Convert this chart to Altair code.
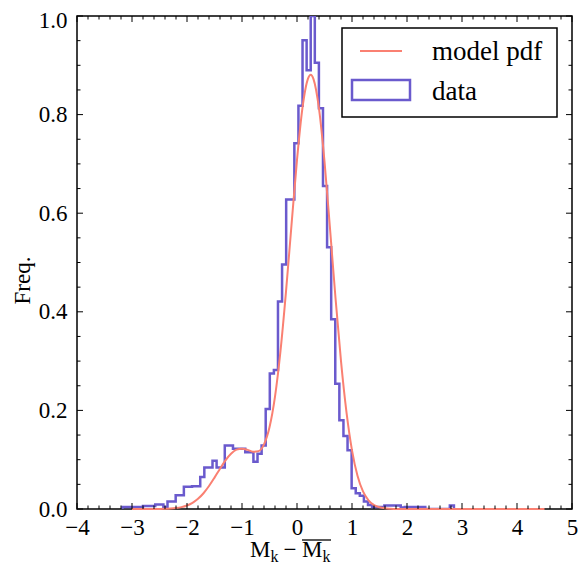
import altair as alt
import pandas as pd

# ---------------- data ----------------
# Histogram ("data"): 81 equal-width bins, first edge and width in data units
bin_first_edge = -3.173
bin_width = 0.0744
freq = [
    0.004, 0.004, 0.004, 0.004, 0.004,
    0.006, 0.006, 0.006, 0.009, 0.009,
    0.004, 0.015, 0.015, 0.028, 0.028,
    0.045, 0.045, 0.046, 0.046, 0.065,
    0.084, 0.084, 0.098, 0.084, 0.084,
    0.129, 0.129, 0.122, 0.122, 0.122,
    0.115, 0.115, 0.096, 0.112, 0.129,
    0.203, 0.275, 0.282, 0.421, 0.496,
    0.628, 0.628, 0.742, 0.818, 0.951,
    0.890, 1.000, 0.905, 0.813, 0.655,
    0.531, 0.385, 0.254, 0.180, 0.148,
    0.119, 0.042, 0.032, 0.027, 0.015,
    0.008, 0.004, 0.004, 0.004, 0.007,
    0.007, 0.007, 0.007, 0.003, 0.004,
    0.004, 0.004, 0.004, 0.004, 0.0,
    0.0, 0.0, 0.0, 0.0, 0.0,
    0.007,
]

# Model pdf curve
pdf_x = [-3.0, -2.8, -2.6, -2.5, -2.4, -2.3, -2.2, -2.1, -2.0, -1.9, -1.8, -1.7,
         -1.6, -1.5, -1.4, -1.3, -1.2, -1.1, -1.0, -0.9, -0.8, -0.7, -0.6, -0.5,
         -0.4, -0.3, -0.2, -0.1, 0.0, 0.1, 0.2, 0.25, 0.3, 0.4, 0.5, 0.6, 0.7,
         0.8, 0.9, 1.0, 1.1, 1.2, 1.3, 1.4, 1.5, 1.6, 1.7, 1.8, 2.0, 3.0, 4.5]
pdf_y = [0.0, 0.0, 0.0001, 0.0002, 0.0004, 0.0009, 0.0019, 0.0038, 0.0072, 0.0126,
         0.0207, 0.032, 0.0466, 0.0637, 0.0818, 0.0987, 0.1119, 0.1204, 0.1224,
         0.1199, 0.1162, 0.1174, 0.1311, 0.1657, 0.2279, 0.3207, 0.441, 0.576,
         0.708, 0.814, 0.873, 0.881, 0.872, 0.812, 0.705, 0.569, 0.428, 0.300,
         0.196, 0.119, 0.0674, 0.0356, 0.0175, 0.008, 0.0034, 0.0013, 0.0005,
         0.0001, 0.0, 0.0, 0.0]

# Axis ticks
x_major = [-4, -3, -2, -1, 0, 1, 2, 3, 4, 5]
x_minor = [round(-4 + 0.2 * i, 2) for i in range(46) if i % 5 != 0]
y_major = [0.0, 0.2, 0.4, 0.6, 0.8, 1.0]
y_minor = [round(0.05 * i, 2) for i in range(21) if i % 4 != 0]

legend_labels = ["model pdf", "data"]
y_title = "Freq."

# ---------------- styling ----------------
W, H = 495, 493
FONT = "Liberation Serif"
BLUE = "#6a5acd"
RED = "#fa8072"
MAJ, MIN = 6, 3.5

# step outline vertices of the histogram
rows = [{"x": bin_first_edge, "y": 0.0, "o": 0}]
n = 1
for i, f in enumerate(freq):
    lo = bin_first_edge + i * bin_width
    rows.append({"x": lo, "y": f, "o": n}); n += 1
    rows.append({"x": lo + bin_width, "y": f, "o": n}); n += 1
rows.append({"x": bin_first_edge + len(freq) * bin_width, "y": 0.0, "o": n})
hist_df = pd.DataFrame(rows)
pdf_df = pd.DataFrame({"x": pdf_x, "y": pdf_y})
one = pd.DataFrame({"k": [0]})

xs = alt.Scale(domain=[-4, 5], nice=False, zero=False)
ys = alt.Scale(domain=[0, 1], nice=False, zero=False)

AX = alt.Axis(values=x_major, format="d", ticks=False, domain=False, grid=False,
              labelFont=FONT, labelFontSize=23, labelColor="black", labelPadding=7,
              labelFlush=False, title=None)
AY = alt.Axis(values=y_major, format=".1f", ticks=False, domain=False, grid=False,
              labelFont=FONT, labelFontSize=23, labelColor="black", labelPadding=10,
              labelFlush=False,
              labelOffset={"condition": {"test": "datum.value >= 0.99", "value": 4}, "value": 0},
              title=y_title, titleFont=FONT, titleFontSize=23, titleFontWeight="normal",
              titleColor="black", titleX=-55, titleY=264, titleAngle=270,
              titleAlign="center", titleBaseline="middle")

hist = alt.Chart(hist_df).mark_line(
    color=BLUE, strokeWidth=2.5, clip=True, strokeJoin="miter"
).encode(
    x=alt.X("x:Q", scale=xs, axis=AX),
    y=alt.Y("y:Q", scale=ys, axis=AY),
    order="o:Q",
)

curve = alt.Chart(pdf_df).mark_line(color=RED, strokeWidth=2, interpolate="monotone").encode(
    x=alt.X("x:Q", scale=xs, axis=AX),
    y=alt.Y("y:Q", scale=ys, axis=AY),
)


def xticks(vals, length, top):
    y0, y1 = (0, length) if top else (H, H - length)
    return alt.Chart(pd.DataFrame({"x": vals})).mark_rule(color="black", strokeWidth=1).encode(
        x=alt.X("x:Q", scale=xs, axis=AX), y=alt.value(y0), y2=alt.value(y1))


def yticks(vals, length, right):
    x0, x1 = (W, W - length) if right else (0, length)
    return alt.Chart(pd.DataFrame({"y": vals})).mark_rule(color="black", strokeWidth=1).encode(
        y=alt.Y("y:Q", scale=ys, axis=AY), x=alt.value(x0), x2=alt.value(x1))


ticks = [
    xticks(x_major, MAJ, False), xticks(x_major, MAJ, True),
    xticks(x_minor, MIN, False), xticks(x_minor, MIN, True),
    yticks(y_major, MAJ, False), yticks(y_major, MAJ, True),
    yticks(y_minor, MIN, False), yticks(y_minor, MIN, True),
]


def label(txt, x, y, size, align="left"):
    return alt.Chart(one).mark_text(
        text=txt, align=align, baseline="alphabetic", font=FONT, fontSize=size, color="black"
    ).encode(x=alt.value(x), y=alt.value(y))


# legend
leg_box = alt.Chart(one).mark_rect(fill="white", stroke="black", strokeWidth=1.5).encode(
    x=alt.value(265), x2=alt.value(480), y=alt.value(12), y2=alt.value(101))
leg_line = alt.Chart(one).mark_rule(color=RED, strokeWidth=2).encode(
    x=alt.value(283), x2=alt.value(325), y=alt.value(35))
leg_patch = alt.Chart(one).mark_rect(fill="white", stroke=BLUE, strokeWidth=2.5).encode(
    x=alt.value(275), x2=alt.value(333), y=alt.value(64), y2=alt.value(84))
leg_t1 = label(legend_labels[0], 355, 44, 27)
leg_t2 = label(legend_labels[1], 355, 84, 27)

# x-axis title: M_k - overline(M_k)
TY = 541
xt = [
    label("M", 173, TY, 23),
    label("k", 193.5, TY + 5, 16),
    label("\u2212", 213, TY, 23, align="center"),
    label("M", 225, TY, 23),
    label("k", 245.5, TY + 5, 16),
]
overline = alt.Chart(one).mark_rule(color="black", strokeWidth=1.3).encode(
    x=alt.value(225), x2=alt.value(254), y=alt.value(TY - 17))

chart = alt.layer(
    hist, curve, *ticks, leg_box, leg_line, leg_patch, leg_t1, leg_t2, *xt, overline
).properties(
    width=W, height=H,
    padding={"left": 69, "top": 8, "right": 6, "bottom": 55},
    autosize="none",
).configure_view(stroke="black", strokeWidth=1.5)

chart.save("out.html", embed_options={"renderer": "svg", "actions": False})
